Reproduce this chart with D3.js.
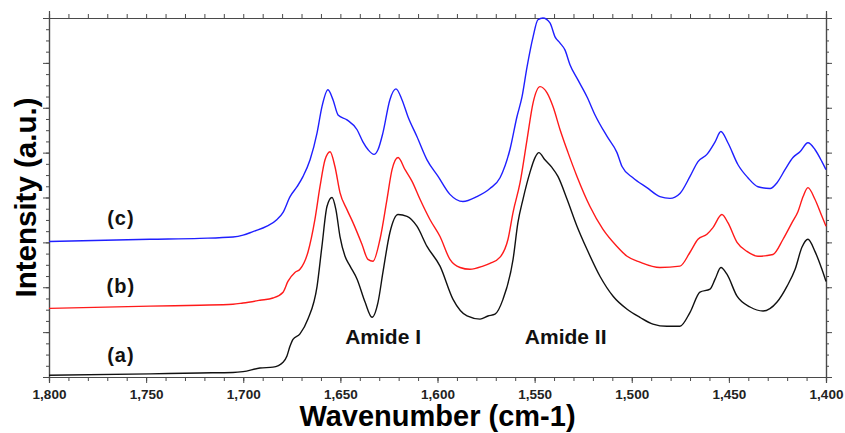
<!DOCTYPE html>
<html>
<head>
<meta charset="utf-8">
<script src="https://cdn.jsdelivr.net/npm/d3@7"></script>
<style>
  body { margin: 0; background: #fff; }
  svg text { font-family: "Liberation Sans", Arial, sans-serif; font-weight: bold; }
</style>
</head>
<body>
<svg id="chart" width="845" height="433"></svg>
<script>
// ── DATA ───────────────────────────────────────────────────────────────────
const xTicks = [1800, 1750, 1700, 1650, 1600, 1550, 1500, 1450, 1400];

// (a) black
const waveA = [1800, 1748.0, 1722.3, 1705.3, 1700.1, 1691.4, 1684.7, 1679.5, 1677.5, 1675.9, 1674.4,
  1670.8, 1666.7, 1662.0, 1659.5, 1656.9, 1654.3, 1652.3, 1650.2, 1647.6, 1645.0,
  1641.4, 1637.3, 1633.7, 1630.6, 1628.1, 1624.5, 1620.3, 1615.7, 1610.6, 1605.4,
  1598.7, 1592.0, 1584.8, 1578.1, 1574.0, 1570.4, 1566.3, 1561.1, 1558.6, 1556.0,
  1552.4, 1549.8, 1547.8, 1544.7, 1541.1, 1538.0, 1533.3, 1528.2, 1523.0, 1516.3,
  1509.6, 1502.4, 1495.8, 1489.1, 1481.9, 1475.2, 1470.0, 1464.9, 1459.7, 1457.1,
  1454.1, 1451.0, 1445.8, 1439.1, 1432.4, 1425.2, 1420.1, 1415.9, 1412.4, 1409.3,
  1405.7, 1402.1, 1400];
const intA = [0.04, 0.07, 0.09, 0.10, 0.12, 0.20, 0.22, 0.33, 0.47, 0.69, 0.84,
  0.96, 1.29, 2.02, 2.91, 3.80, 4.00, 3.73, 3.13, 2.69, 2.47,
  2.18, 1.67, 1.33, 1.67, 2.33, 3.22, 3.62, 3.58, 3.36, 2.91,
  2.47, 1.73, 1.36, 1.29, 1.36, 1.40, 1.73, 2.62, 3.44, 3.96,
  4.56, 4.89, 5.00, 4.84, 4.67, 4.47, 3.96, 3.36, 2.84, 2.24,
  1.80, 1.51, 1.33, 1.18, 1.13, 1.13, 1.44, 1.89, 1.96, 2.18,
  2.44, 2.29, 1.80, 1.56, 1.47, 1.67, 2.02, 2.40, 2.89, 3.07,
  2.80, 2.40, 2.13];

// (b) red
const waveB = [1800, 1748.0, 1722.3, 1705.3, 1700.1, 1691.4, 1684.7, 1679.5, 1677.0, 1673.4, 1670.8, 1666.7,
  1663.1, 1660.5, 1657.9, 1655.3, 1652.8, 1650.2, 1646.6, 1643.5, 1638.9, 1635.8,
  1633.2, 1629.6, 1626.0, 1623.4, 1620.3, 1616.7, 1613.1, 1609.0, 1603.9, 1598.7,
  1593.6, 1588.4, 1583.3, 1576.6, 1573.0, 1567.8, 1563.7, 1561.1, 1557.5, 1553.9,
  1550.8, 1547.2, 1543.6, 1540.5, 1536.9, 1532.8, 1528.2, 1521.5, 1514.8, 1507.6,
  1502.4, 1495.8, 1485.5, 1475.2, 1470.0, 1465.9, 1461.3, 1458.2, 1453.6, 1450.5,
  1445.8, 1440.7, 1435.0, 1427.3, 1422.1, 1417.5, 1414.4, 1411.8, 1409.3, 1405.7,
  1402.1, 1400];
const intB = [1.53, 1.58, 1.60, 1.62, 1.65, 1.71, 1.76, 1.89, 2.13, 2.33, 2.40, 2.78,
  3.51, 4.24, 4.84, 5.02, 4.69, 4.11, 3.73, 3.44, 2.96, 2.62,
  2.58, 3.07, 3.96, 4.62, 4.89, 4.62, 4.36, 3.96, 3.51, 3.13,
  2.62, 2.44, 2.40, 2.47, 2.53, 2.67, 3.07, 3.67, 4.33, 5.29,
  6.11, 6.47, 6.33, 6.02, 5.51, 5.00, 4.47, 3.80, 3.29, 2.91,
  2.69, 2.56, 2.44, 2.47, 2.78, 3.07, 3.18, 3.33, 3.62, 3.44,
  3.00, 2.80, 2.69, 2.73, 3.07, 3.44, 3.69, 4.02, 4.22, 3.96,
  3.58, 3.36];

// (c) blue
const waveC = [1800, 1748.0, 1722.3, 1705.3, 1700.1, 1695.0, 1687.8, 1682.6, 1679.5, 1675.9, 1672.3, 1669.2,
  1665.6, 1662.0, 1659.5, 1656.4, 1653.8, 1651.2, 1646.6, 1641.4, 1638.4, 1635.8,
  1632.7, 1630.6, 1628.1, 1624.5, 1621.4, 1618.3, 1615.2, 1610.6, 1605.4, 1599.7,
  1593.6, 1586.9, 1579.7, 1573.0, 1567.8, 1562.7, 1559.1, 1556.5, 1553.9, 1550.8,
  1548.3, 1545.7, 1542.1, 1539.5, 1536.9, 1534.4, 1531.8, 1527.7, 1523.0, 1518.9,
  1512.7, 1507.6, 1505.0, 1499.4, 1492.2, 1485.5, 1480.3, 1475.2, 1470.0, 1465.9,
  1461.3, 1457.1, 1454.1, 1450.5, 1445.3, 1440.2, 1435.0, 1428.8, 1425.2, 1421.1,
  1417.0, 1413.4, 1409.3, 1405.7, 1402.1, 1400];
const intC = [3.02, 3.07, 3.09, 3.12, 3.16, 3.24, 3.36, 3.51, 3.67, 4.02, 4.24, 4.47,
  4.84, 5.44, 6.02, 6.40, 6.18, 5.84, 5.73, 5.51, 5.24, 5.07,
  4.96, 5.07, 5.44, 6.18, 6.42, 6.18, 5.80, 5.36, 4.84, 4.47,
  4.07, 3.91, 4.02, 4.20, 4.44, 5.07, 5.80, 6.24, 6.91, 7.58,
  7.96, 8.00, 7.89, 7.58, 7.44, 7.29, 6.96, 6.62, 6.24, 5.84,
  5.36, 5.00, 4.69, 4.44, 4.22, 4.02, 3.98, 4.09, 4.47, 4.80,
  4.96, 5.24, 5.47, 5.22, 4.73, 4.44, 4.24, 4.20, 4.33, 4.62,
  4.89, 5.02, 5.22, 5.07, 4.80, 4.62];

const seriesNames  = ['(a)', '(b)', '(c)'];
const seriesColors = ['#111111', '#ff1a1a', '#1f1fff'];

// annotation anchors, in data units (wavenumber, intensity)
const noteText = ['(c)', '(b)', '(a)', 'Amide I', 'Amide II'];
const noteWave = [1763, 1763, 1763, 1628, 1534];
const noteInt  = [3.38, 1.87, 0.33, 0.73, 0.73];

// ── LAYOUT ─────────────────────────────────────────────────────────────────
const W = 845, H = 433;
const margin = { top: 18, right: 19, bottom: 56, left: 49 };

const svg = d3.select('#chart');

const x = d3.scaleLinear().domain([1800, 1400]).range([margin.left, W - margin.right]);
const y = d3.scaleLinear().domain([0, 8]).range([H - margin.bottom, margin.top]);

const minorX = d3.range(1800, 1399, -10);
const majorY = d3.range(0, 8.01, 1);
const minorY = d3.range(0, 8.01, 0.25);

const axisCol = '#4a4a4a';

function styleAxis(sel) {
  sel.select('.domain').attr('stroke', axisCol).attr('stroke-width', 1.2);
  sel.selectAll('.tick line').attr('stroke', axisCol).attr('stroke-width', 1);
}

// bottom: minor ticks, then majors with labels
svg.append('g')
  .attr('transform', `translate(0,${y(0)})`)
  .call(d3.axisBottom(x).tickValues(minorX).tickSize(4).tickFormat(''))
  .call(styleAxis);

svg.append('g')
  .attr('transform', `translate(0,${y(0)})`)
  .call(d3.axisBottom(x).tickValues(xTicks).tickSize(6).tickPadding(6).tickFormat(d3.format(',')))
  .call(styleAxis)
  .call(g => g.selectAll('.tick text')
    .attr('fill', '#222').attr('font-size', 13.5));

// top
svg.append('g')
  .attr('transform', `translate(0,${y(8)})`)
  .call(d3.axisTop(x).tickValues(minorX).tickSize(4).tickFormat(''))
  .call(styleAxis);
svg.append('g')
  .attr('transform', `translate(0,${y(8)})`)
  .call(d3.axisTop(x).tickValues([1800]).tickSize(7).tickFormat(''))
  .call(styleAxis);

// left / right, no labels
[[d3.axisLeft, margin.left], [d3.axisRight, W - margin.right]].forEach(([ax, pos]) => {
  svg.append('g')
    .attr('transform', `translate(${pos},0)`)
    .call(ax(y).tickValues(minorY).tickSize(3).tickFormat(''))
    .call(styleAxis);
  svg.append('g')
    .attr('transform', `translate(${pos},0)`)
    .call(ax(y).tickValues(majorY).tickSize(6).tickFormat(''))
    .call(styleAxis);
});

// ── CURVES ─────────────────────────────────────────────────────────────────
const line = d3.line()
  .x(d => x(d[0]))
  .y(d => y(d[1]))
  .curve(d3.curveMonotoneX);

const series = [
  d3.zip(waveA, intA),
  d3.zip(waveB, intB),
  d3.zip(waveC, intC),
];

svg.append('g')
  .selectAll('path')
  .data(series)
  .join('path')
    .attr('d', line)
    .attr('fill', 'none')
    .attr('stroke', (d, i) => seriesColors[i])
    .attr('stroke-width', 1.4)
    .attr('stroke-linejoin', 'round')
    .attr('aria-label', (d, i) => seriesNames[i]);

// ── ANNOTATIONS ────────────────────────────────────────────────────────────
svg.append('g')
  .selectAll('text')
  .data(noteText)
  .join('text')
    .attr('x', (d, i) => x(noteWave[i]))
    .attr('y', (d, i) => y(noteInt[i]))
    .attr('text-anchor', 'middle')
    .attr('font-size', (d, i) => i < 3 ? 20 : 21)
    .attr('letter-spacing', (d, i) => i < 3 ? 1 : 0)
    .attr('fill', '#111')
    .text(d => d);

// ── AXIS TITLES ────────────────────────────────────────────────────────────
svg.append('text')
  .attr('x', (x(1800) + x(1400)) / 2)
  .attr('y', 426)
  .attr('text-anchor', 'middle')
  .attr('font-size', 29)
  .attr('fill', '#000')
  .text('Wavenumber (cm-1)');

svg.append('text')
  .attr('transform', `translate(36,${(y(0) + y(8)) / 2}) rotate(-90)`)
  .attr('text-anchor', 'middle')
  .attr('font-size', 29.5)
  .attr('fill', '#000')
  .text('Intensity (a.u.)');
</script>
</body>
</html>
